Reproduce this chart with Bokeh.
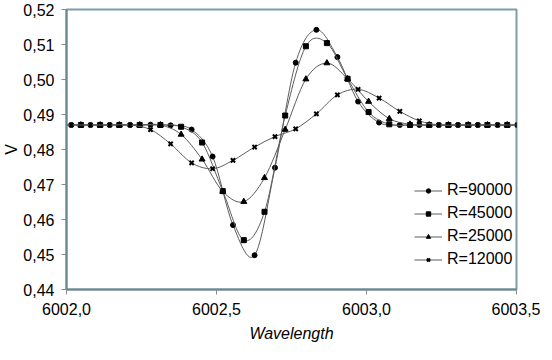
from bokeh.plotting import figure
from bokeh.models import Range1d, FixedTicker, Legend, LegendItem
from bokeh.embed import file_html
from bokeh.resources import INLINE

# ---- data ----
# wavelength grid shared by R=90000 and R=12000
wl_a = [6001.952, 6002.016, 6002.080, 6002.144, 6002.212, 6002.280, 6002.347, 6002.417,
        6002.487, 6002.555, 6002.627, 6002.695, 6002.764, 6002.833, 6002.903, 6002.972,
        6003.042, 6003.111, 6003.176, 6003.241, 6003.305, 6003.371, 6003.437, 6003.503]
# wavelength grid shared by R=45000 and R=25000
wl_b = [6001.982, 6002.048, 6002.112, 6002.176, 6002.244, 6002.313, 6002.382, 6002.452,
        6002.521, 6002.591, 6002.660, 6002.729, 6002.798, 6002.868, 6002.937, 6003.007,
        6003.076, 6003.145, 6003.209, 6003.273, 6003.339, 6003.403, 6003.469, 6003.535]

v_90000 = [0.4870, 0.4870, 0.4870, 0.4870, 0.4870, 0.4871, 0.4869, 0.4857,
           0.4780, 0.4584, 0.4498, 0.4748, 0.5048, 0.5142, 0.5064, 0.4937,
           0.4877, 0.4870, 0.4870, 0.4870, 0.4870, 0.4870, 0.4870, 0.4870]
v_45000 = [0.4870, 0.4870, 0.4870, 0.4870, 0.4870, 0.4870, 0.4865, 0.4820,
           0.4681, 0.4541, 0.4622, 0.4897, 0.5095, 0.5104, 0.5002, 0.4907,
           0.4872, 0.4870, 0.4870, 0.4870, 0.4870, 0.4870, 0.4870, 0.4870]
v_25000 = [0.4870, 0.4870, 0.4870, 0.4870, 0.4870, 0.4870, 0.4843, 0.4772,
           0.4680, 0.4651, 0.4719, 0.4857, 0.5001, 0.5047, 0.5002, 0.4937,
           0.4888, 0.4872, 0.4870, 0.4870, 0.4870, 0.4870, 0.4870, 0.4870]
v_12000 = [0.4870, 0.4870, 0.4870, 0.4870, 0.4870, 0.4857, 0.4816, 0.4762,
           0.4745, 0.4769, 0.4807, 0.4837, 0.4859, 0.4902, 0.4956, 0.4972,
           0.4947, 0.4909, 0.4882, 0.4870, 0.4870, 0.4870, 0.4870, 0.4870]

series_labels = ["R=90000", "R=45000", "R=25000", "R=12000"]
series_x = [wl_a, wl_b, wl_b, wl_a]
series_y = [v_90000, v_45000, v_25000, v_12000]
series_markers = ["circle", "square", "triangle", "x"]

x_ticks = [6002.0, 6002.5, 6003.0, 6003.5]
x_tick_labels = ["6002,0", "6002,5", "6003,0", "6003,5"]
y_ticks = [0.44, 0.45, 0.46, 0.47, 0.48, 0.49, 0.50, 0.51, 0.52]
y_tick_labels = ["0,44", "0,45", "0,46", "0,47", "0,48", "0,49", "0,50", "0,51", "0,52"]

FONT = "Liberation Sans"
LINE_COLOR = "#5c5c5c"

p = figure(width=540, height=344, output_backend="svg", toolbar_location=None,
           x_range=Range1d(6002.0, 6003.5), y_range=Range1d(0.44, 0.52),
           min_border_left=0, min_border_right=24, min_border_top=9, min_border_bottom=0,
           background_fill_color="white", border_fill_color="white")

p.xgrid.visible = False
p.ygrid.visible = False
p.outline_line_color = "#7f9dab"
p.outline_line_width = 2

for ax in (p.xaxis[0], p.yaxis[0]):
    ax.axis_line_color = "#6a8894"
    ax.axis_line_width = 2
    ax.major_tick_line_color = "#8a8a8a"
    ax.major_tick_in = 0
    ax.major_tick_out = 5
    ax.minor_tick_line_color = None
    ax.major_label_text_font = FONT
    ax.major_label_text_font_size = "16px"
    ax.major_label_text_color = "black"
    ax.axis_label_text_font = FONT
    ax.axis_label_text_font_size = "16px"
    ax.axis_label_text_color = "black"

p.xaxis.ticker = FixedTicker(ticks=x_ticks)
p.xaxis.major_label_overrides = dict(zip(x_ticks, x_tick_labels))
p.xaxis.major_label_standoff = 8
p.xaxis.axis_label = "Wavelength"
p.xaxis.axis_label_text_font_style = "italic"
p.xaxis.axis_label_standoff = 7

p.yaxis.ticker = FixedTicker(ticks=y_ticks)
p.yaxis.major_label_overrides = dict(zip(y_ticks, y_tick_labels))
p.yaxis.major_label_standoff = 7
p.yaxis.axis_label = "V"
p.yaxis.axis_label_text_font_style = "normal"
p.yaxis.axis_label_standoff = 0


def smooth_segments(xs, ys):
    """Excel-like smoothed line: cubic Bezier segments through the data points."""
    n = len(xs)
    seg = dict(x0=[], y0=[], x1=[], y1=[], cx0=[], cy0=[], cx1=[], cy1=[])
    for i in range(n - 1):
        xm, ym = (xs[i - 1], ys[i - 1]) if i > 0 else (xs[i], ys[i])
        xp, yp = (xs[i + 2], ys[i + 2]) if i + 2 < n else (xs[i + 1], ys[i + 1])
        seg["x0"].append(xs[i]); seg["y0"].append(ys[i])
        seg["x1"].append(xs[i + 1]); seg["y1"].append(ys[i + 1])
        seg["cx0"].append(xs[i] + (xs[i + 1] - xm) / 6.0)
        seg["cy0"].append(ys[i] + (ys[i + 1] - ym) / 6.0)
        seg["cx1"].append(xs[i + 1] - (xp - xs[i]) / 6.0)
        seg["cy1"].append(ys[i + 1] - (yp - ys[i]) / 6.0)
    return seg


items = []
for label, xs, ys, mk in zip(series_labels, series_x, series_y, series_markers):
    seg = smooth_segments(xs, ys)
    curve = p.bezier(x0=seg["x0"], y0=seg["y0"], x1=seg["x1"], y1=seg["y1"],
                     cx0=seg["cx0"], cy0=seg["cy0"], cx1=seg["cx1"], cy1=seg["cy1"],
                     line_color=LINE_COLOR, line_width=1)
    if mk == "x":
        sc = p.scatter(xs, ys, marker="x", size=6, line_color="black", line_width=2)
    elif mk == "triangle":
        sc = p.scatter(xs, ys, marker="triangle", size=6, fill_color="black", line_color="black")
    else:
        sc = p.scatter(xs, ys, marker=mk, size=5, fill_color="black", line_color="black")
    items.append(LegendItem(label=label, renderers=[curve, sc]))

legend = Legend(items=items, location=(348, 20), orientation="vertical",
                label_text_font=FONT, label_text_font_size="16px",
                label_text_color="black", glyph_width=28, glyph_height=11,
                label_height=20, label_standoff=5, spacing=3, padding=0, margin=0,
                border_line_color=None, background_fill_alpha=0)
p.add_layout(legend, "center")

open("out.html", "w").write(file_html(p, INLINE))
